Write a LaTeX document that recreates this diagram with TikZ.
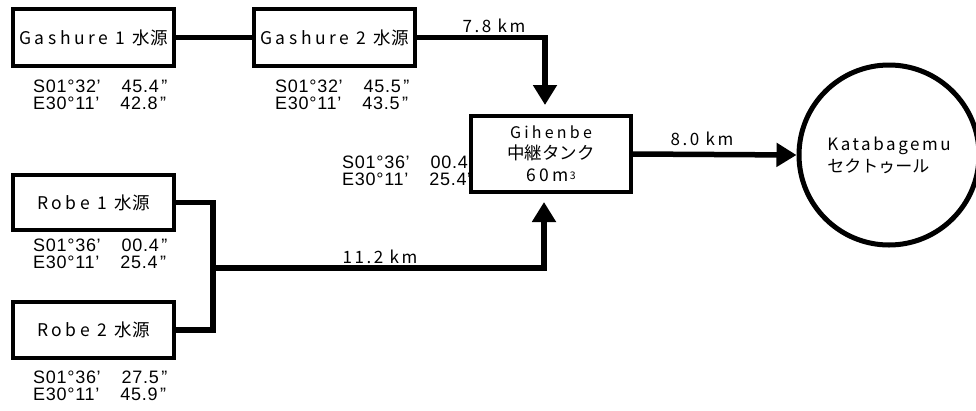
\documentclass[tikz,border=0pt]{standalone}
\usepackage{fontspec}
\setmainfont{Liberation Sans}
\newfontfamily\jp{Noto Sans CJK JP}
\newfontfamily\jpl[LetterSpace=15]{Noto Sans CJK JP}
\newfontfamily\jpw[LetterSpace=20]{Noto Sans CJK JP}
\newfontfamily\crd[LetterSpace=4]{Liberation Sans}
\newcommand\secmark[1]{#1\hspace{2.5pt}”}
\usetikzlibrary{arrows.meta}
\begin{document}
\begin{tikzpicture}[x=1pt,y=-1pt,
  box/.style={draw, line width=4pt, fill=white, inner sep=0pt,
    font=\fontsize{17.5}{21}\selectfont},
  pipe/.style={line width=5.5pt},
  flow/.style={pipe, -{Triangle[length=20pt,width=23pt]}},
  coord/.style={anchor=west, align=left, inner sep=0pt,
    font=\crd\fontsize{18}{16.5}\selectfont},
  lbl/.style={inner sep=0pt, font=\fontsize{17}{20}\selectfont}]
\useasboundingbox (0,0) rectangle (976,410);

% coordinate texts
\node[coord] (c1) at (33,95) {S01°32’\hspace{21pt}\secmark{45.4}\\E30°11’\hspace{21pt}\secmark{42.8}};
\node[coord] (c2) at (275,95) {S01°32’\hspace{21pt}\secmark{45.5}\\E30°11’\hspace{21pt}\secmark{43.5}};
\node[coord] (c3) at (33,254) {S01°36’\hspace{21pt}\secmark{00.4}\\E30°11’\hspace{21pt}\secmark{25.4}};
\node[coord] (c4) at (33,386) {S01°36’\hspace{21pt}\secmark{27.5}\\E30°11’\hspace{21pt}\secmark{45.9}};
\node[coord, font=\crd\fontsize{18}{17}\selectfont] (c5) at (342,171) {S01°36’\hspace{21pt}00.4”\\E30°11’\hspace{21pt}25.4”};

% boxes
\node[box, minimum width=161pt, minimum height=57pt] (g1) at (93.5,37.5) {{\jpw Gashure 1 }{\jp 水源}};
\node[box, minimum width=161pt, minimum height=57pt] (g2) at (334.5,37.5) {{\jpw Gashure 2 }{\jp 水源}};
\node[box, minimum width=161pt, minimum height=55pt] (r1) at (93.5,202.5) {{\jpw Robe 1 }{\jp 水源}};
\node[box, minimum width=161pt, minimum height=56pt] (r2) at (93.5,330) {{\jpw Robe 2 }{\jp 水源}};
\node[box, minimum width=160pt, minimum height=76pt, align=center] (tank) at (551,154)
  {\raisebox{-1pt}{\jpw\fontsize{16}{21}\selectfont Gihenbe}\\[1pt]{\jp 中継タンク}\\[1pt]{\jpw 60m}\hspace{1pt}\raisebox{2.5pt}{\jp\fontsize{10.5}{11}\selectfont 3}};
\node[draw, circle, line width=5pt, minimum size=180pt, inner sep=0pt, align=left,
  font=\fontsize{17}{22}\selectfont] (kat) at (889,155)
  {{\jpl Katabagemu}\\{\jp セクトゥール}};

% connectors
\coordinate (j) at (213,268);
\draw[pipe] (g1) -- (g2);
\draw[flow] (g2.east) -| ([xshift=-6pt,yshift=9pt]tank.north);
\draw[flow] (tank.east) -- (kat.west);
\draw[pipe] (r1.east) -| (j);
\draw[pipe] (r2.east) -| (j);
\draw[flow] (j) -| ([xshift=-7pt,yshift=-8pt]tank.south);

% distance labels
\node[lbl] (l78) at (494,26) {\jpl 7.8 km};
\node[lbl] (l80) at (702,139) {\jpl 8.0 km};
\node[lbl] (l112) at (380,257) {\jpl 11.2 km};
\end{tikzpicture}
\end{document}
